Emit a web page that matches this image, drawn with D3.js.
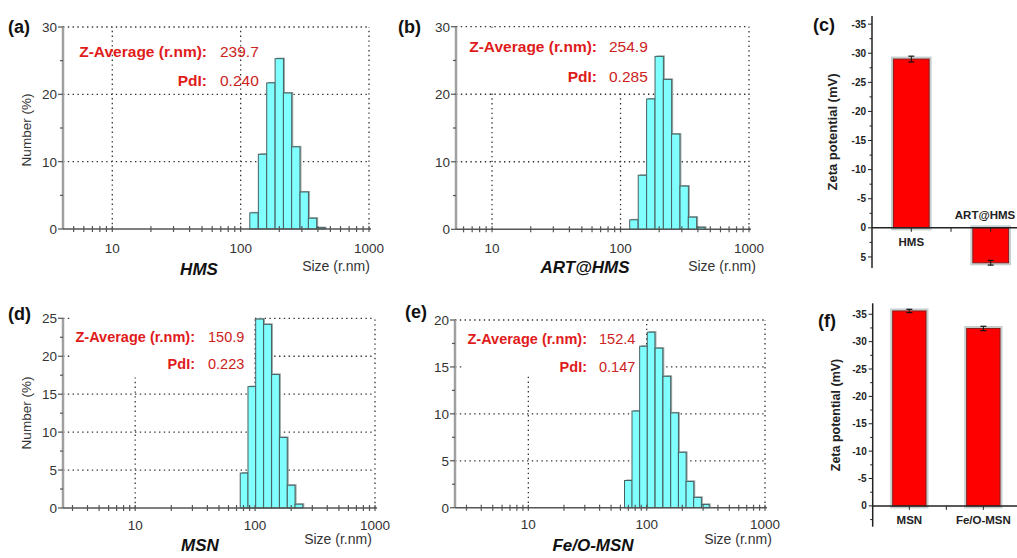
<!DOCTYPE html>
<html>
<head>
<meta charset="utf-8">
<script src="https://cdn.jsdelivr.net/npm/d3@7"></script>
<style>
body { margin: 0; background: #fff; }
svg { display: block; }
text { font-family: "Liberation Sans", Arial, sans-serif; }
</style>
</head>
<body>
<svg id="s"></svg>
<script>
// size distribution bins (r.nm) shared by the four histograms
var binSizes     = [70, 81, 94, 109, 127, 148, 172, 200, 232, 269, 313, 363, 422];
var hmsNumber    = [0, 0, 0, 0, 2.4, 11.1, 21.7, 25.3, 20.2, 12.2, 5.5, 1.6, 0.2];
var artHmsNumber = [0, 0, 0, 0, 1.4, 8.0, 19.3, 25.6, 22.2, 14.1, 6.4, 1.8, 0.3];
var msnNumber    = [0, 4.6, 16.0, 24.9, 24.2, 17.6, 9.3, 3.0, 0.5, 0, 0, 0, 0];
var feoMsnNumber = [2.9, 10.3, 17.2, 18.7, 17.0, 14.0, 10.1, 5.9, 2.8, 1.1, 0.35, 0, 0];
var binRatio = 1.161;

var sampleNames = ['HMS', 'ART@HMS', 'MSN', 'Fe/O-MSN'];
var zAverage = ['239.7', '254.9', '150.9', '152.4'];
var pdiValues = ['0.240', '0.285', '0.223', '0.147'];
var sizeTicks = [10, 100, 1000];

// zeta potential (mV)
var zetaCatsC = ['HMS', 'ART@HMS'];
var zetaMeanC = [-29.0, 6.0];
var zetaErrC  = [0.5, 0.4];
var zetaCatsF = ['MSN', 'Fe/O-MSN'];
var zetaMeanF = [-35.6, -32.4];
var zetaErrF  = [0.3, 0.4];
var zetaTicksC = [-35, -30, -25, -20, -15, -10, -5, 0, 5];
var zetaTicksF = [-35, -30, -25, -20, -15, -10, -5, 0];

var W = 1017, H = 558;
var svg = d3.select('#s').attr('width', W).attr('height', H);
svg.append('rect').attr('width', W).attr('height', H).attr('fill', '#fff');

var red = '#e01b1b';

var hists = [
  {tag: '(a)', tagX: 8, tagY: 33, values: hmsNumber, k: 0,
   xr: [63, 369], xd: [4.13, 1000], yr: [229, 27], yd: [0, 30], step: 10,
   labX: 207, zY: 57, pY: 86, valX: 220, fs: 15.5,
   nameX: 199, nameY: 275, sizeX: 336, sizeY: 271, tickY: 253,
   yTitle: [31, 130], mask: null},
  {tag: '(b)', tagX: 398, tagY: 33, values: artHmsNumber, k: 1,
   xr: [456, 749], xd: [5.24, 1000], yr: [229.3, 26.7], yd: [0, 30], step: 10,
   labX: 597, zY: 52, pY: 82, valX: 609, fs: 15.5,
   nameX: 585, nameY: 273, sizeX: 722, sizeY: 271, tickY: 253,
   yTitle: null, mask: [5.3, 150, 29.5, 20.4]},
  {tag: '(d)', tagX: 8, tagY: 320, values: msnNumber, k: 2,
   xr: [63, 375], xd: [2.5, 1000], yr: [508, 318.3], yd: [0, 25], step: 5,
   labX: 195, zY: 342, pY: 369, valX: 208, fs: 14.5,
   nameX: 200, nameY: 551, sizeX: 338, sizeY: 544, tickY: 530,
   yTitle: [31, 413], mask: [2.87, 97, 25.6, 17.2]},
  {tag: '(e)', tagX: 405, tagY: 318, values: feoMsnNumber, k: 3,
   xr: [455, 765], xd: [2.4, 1000], yr: [507.7, 320], yd: [0, 20], step: 5,
   labX: 587, zY: 344, pY: 372, valX: 599, fs: 14.5,
   nameX: 593, nameY: 551, sizeX: 738, sizeY: 544, tickY: 529,
   yTitle: null, mask: [2.75, 88, 19.7, 14.2]}
];

hists.forEach(drawHist);

function drawHist(p) {
  var x = d3.scaleLog().domain(p.xd).range(p.xr);
  var y = d3.scaleLinear().domain(p.yd).range(p.yr);
  var g = svg.append('g');
  var x0 = p.xr[0], x1 = p.xr[1], y0 = p.yr[0], y1 = p.yr[1];

  // dotted grid
  var gridY = d3.range(p.step, p.yd[1] + 0.01, p.step);
  g.selectAll('.gy').data(gridY).enter().append('line')
    .attr('x1', x0).attr('x2', x1)
    .attr('y1', function(d){ return y(d); }).attr('y2', function(d){ return y(d); })
    .attr('stroke', '#333').attr('stroke-width', 1.3).attr('stroke-dasharray', '1.4,3.4');
  g.selectAll('.gx').data(sizeTicks).enter().append('line')
    .attr('x1', function(d){ return x(d); }).attr('x2', function(d){ return x(d); })
    .attr('y1', y0).attr('y2', y1)
    .attr('stroke', '#333').attr('stroke-width', 1.3).attr('stroke-dasharray', '1.4,3.4');

  if (p.mask) {
    g.append('rect')
      .attr('x', x(p.mask[0])).attr('y', y(p.mask[2]))
      .attr('width', x(p.mask[1]) - x(p.mask[0]))
      .attr('height', y(p.mask[3]) - y(p.mask[2]))
      .attr('fill', '#fff');
  }

  var bins = binSizes.map(function(s, i){ return {s: s, v: p.values[i]}; })
    .filter(function(d){ return d.v > 0; });
  var h = Math.sqrt(binRatio);

  g.selectAll('.sh').data(bins).enter().append('rect')
    .attr('x', function(d){ return x(d.s / h) + 1.5; })
    .attr('y', function(d){ return y(d.v) - 1; })
    .attr('width', function(d){ return x(d.s * h) - x(d.s / h); })
    .attr('height', function(d){ return y(0) - y(d.v) + 1; })
    .attr('fill', '#9aa6a6');
  g.selectAll('.bar').data(bins).enter().append('rect')
    .attr('x', function(d){ return x(d.s / h); })
    .attr('y', function(d){ return y(d.v); })
    .attr('width', function(d){ return x(d.s * h) - x(d.s / h); })
    .attr('height', function(d){ return y(0) - y(d.v); })
    .attr('fill', '#80ffff').attr('stroke', '#476060').attr('stroke-width', 1);

  // axes
  g.append('line').attr('x1', x0).attr('x2', x0).attr('y1', y0).attr('y2', y1)
    .attr('stroke', '#a0a0a0').attr('stroke-width', 2.5);
  g.append('line').attr('x1', x0).attr('x2', x1 + 2).attr('y1', y0).attr('y2', y0)
    .attr('stroke', '#555').attr('stroke-width', 1.5);

  var xt = x.ticks().filter(function(d){ return d >= p.xd[0] && d <= p.xd[1]; });
  g.selectAll('.xt').data(xt).enter().append('line')
    .attr('x1', function(d){ return x(d); }).attr('x2', function(d){ return x(d); })
    .attr('y1', y0 - 3).attr('y2', y0 + 3)
    .attr('stroke', '#555').attr('stroke-width', 1.2);
  g.selectAll('.xl').data(sizeTicks).enter().append('text')
    .attr('x', function(d){ return x(d); }).attr('y', p.tickY)
    .attr('text-anchor', 'middle').attr('font-size', 13.5).attr('fill', '#333')
    .text(function(d){ return d; });

  var yt = d3.range(0, p.yd[1] + 0.01, p.step / 2);
  g.selectAll('.yt').data(yt).enter().append('line')
    .attr('x1', function(d){ return d % p.step === 0 ? x0 - 5 : x0 - 3; }).attr('x2', x0)
    .attr('y1', function(d){ return y(d); }).attr('y2', function(d){ return y(d); })
    .attr('stroke', '#555').attr('stroke-width', 1.2);
  g.selectAll('.yl').data(yt.filter(function(d){ return d % p.step === 0; })).enter().append('text')
    .attr('x', x0 - 6).attr('y', function(d){ return y(d); }).attr('dy', '0.36em')
    .attr('text-anchor', 'end').attr('font-size', 13.5).attr('fill', '#333')
    .text(function(d){ return d; });

  if (p.yTitle) {
    g.append('text').attr('transform', 'translate(' + p.yTitle[0] + ',' + p.yTitle[1] + ') rotate(-90)')
      .attr('text-anchor', 'middle').attr('font-size', 13.5).attr('fill', '#333')
      .text('Number (%)');
  }

  g.append('text').attr('x', p.tagX).attr('y', p.tagY)
    .attr('font-size', 18).attr('font-weight', 'bold').attr('fill', '#111').text(p.tag);

  g.append('text').attr('x', p.labX).attr('y', p.zY).attr('text-anchor', 'end')
    .attr('font-size', p.fs).attr('font-weight', 'bold').attr('fill', red).text('Z-Average (r.nm):');
  g.append('text').attr('x', p.labX).attr('y', p.pY).attr('text-anchor', 'end')
    .attr('font-size', p.fs).attr('font-weight', 'bold').attr('fill', red).text('PdI:');
  g.append('text').attr('x', p.valX).attr('y', p.zY)
    .attr('font-size', p.fs).attr('fill', '#cc2222').text(zAverage[p.k]);
  g.append('text').attr('x', p.valX).attr('y', p.pY)
    .attr('font-size', p.fs).attr('fill', '#cc2222').text(pdiValues[p.k]);

  g.append('text').attr('x', p.nameX).attr('y', p.nameY).attr('text-anchor', 'middle')
    .attr('font-size', 17).attr('font-weight', 'bold').attr('font-style', 'italic')
    .attr('fill', '#111').text(sampleNames[p.k]);
  g.append('text').attr('x', p.sizeX).attr('y', p.sizeY).attr('text-anchor', 'middle')
    .attr('font-size', 14).attr('fill', '#333').text('Size (r.nm)');
}

var zetas = [
  {tag: '(c)', tagX: 813, tagY: 31, cats: zetaCatsC, means: zetaMeanC, errs: zetaErrC, ticks: zetaTicksC,
   xr: [872, 1030], yd: [-36.4, 6.9], yr: [16, 268], titleX: 837, titleY: 132, tfs: 13},
  {tag: '(f)', tagX: 818, tagY: 327, cats: zetaCatsF, means: zetaMeanF, errs: zetaErrF, ticks: zetaTicksF,
   xr: [872.7, 1020], yd: [-37, 3.8], yr: [303.3, 526.7], titleX: 840, titleY: 415, tfs: 12.5}
];

zetas.forEach(drawZeta);

function drawZeta(p) {
  var x = d3.scaleBand().domain(p.cats).range(p.xr).paddingInner(0.55).paddingOuter(0.27);
  var y = d3.scaleLinear().domain(p.yd).range(p.yr);
  var g = svg.append('g');
  var ax = p.xr[0];
  var data = p.cats.map(function(c, i){ return {c: c, v: p.means[i], e: p.errs[i]}; });

  g.selectAll('.halo').data(data).enter().append('rect')
    .attr('x', function(d){ return x(d.c) - 1; })
    .attr('y', function(d){ return Math.min(y(0), y(d.v)) - 1; })
    .attr('width', x.bandwidth() + 2)
    .attr('height', function(d){ return Math.abs(y(d.v) - y(0)) + 2; })
    .attr('fill', 'none').attr('stroke', '#c6cfcf').attr('stroke-width', 3);
  g.selectAll('.bar').data(data).enter().append('rect')
    .attr('x', function(d){ return x(d.c); })
    .attr('y', function(d){ return Math.min(y(0), y(d.v)); })
    .attr('width', x.bandwidth())
    .attr('height', function(d){ return Math.abs(y(d.v) - y(0)); })
    .attr('fill', '#ff0000').attr('stroke', '#8e1a1a').attr('stroke-width', 1);

  // error bars
  data.forEach(function(d) {
    var cx = x(d.c) + x.bandwidth() / 2;
    g.append('line').attr('x1', cx).attr('x2', cx)
      .attr('y1', y(d.v - d.e)).attr('y2', y(d.v + d.e))
      .attr('stroke', '#111').attr('stroke-width', 1);
    [d.v - d.e, d.v + d.e].forEach(function(t) {
      g.append('line').attr('x1', cx - 3).attr('x2', cx + 3)
        .attr('y1', y(t)).attr('y2', y(t))
        .attr('stroke', '#111').attr('stroke-width', 1.2);
    });
  });

  // axes
  g.append('line').attr('x1', ax).attr('x2', ax).attr('y1', p.yr[0]).attr('y2', p.yr[1])
    .attr('stroke', '#222').attr('stroke-width', 1.5);
  g.append('line').attr('x1', ax).attr('x2', W).attr('y1', y(0)).attr('y2', y(0))
    .attr('stroke', '#222').attr('stroke-width', 1.5);

  var minor = d3.range(Math.ceil(p.yd[0] / 2.5) * 2.5, p.yd[1], 2.5);
  g.selectAll('.yt').data(minor).enter().append('line')
    .attr('x1', function(d){ return d % 5 === 0 ? ax - 4 : ax - 2.5; }).attr('x2', ax)
    .attr('y1', function(d){ return y(d); }).attr('y2', function(d){ return y(d); })
    .attr('stroke', '#222').attr('stroke-width', 1);
  g.selectAll('.yl').data(p.ticks).enter().append('text')
    .attr('x', ax - 6).attr('y', function(d){ return y(d); }).attr('dy', '0.36em')
    .attr('text-anchor', 'end').attr('font-size', 10).attr('font-weight', 'bold').attr('fill', '#222')
    .text(function(d){ return d; });

  var step = x.step();
  var xt = [];
  p.cats.forEach(function(c, i){
    xt.push(x(c) + x.bandwidth() / 2);
    xt.push(x(c) + x.bandwidth() / 2 + step / 2);
  });
  g.selectAll('.xt').data(xt).enter().append('line')
    .attr('x1', function(d){ return d; }).attr('x2', function(d){ return d; })
    .attr('y1', y(0)).attr('y2', y(0) + 4)
    .attr('stroke', '#222').attr('stroke-width', 1);

  // category labels; a label that would run past the right edge is kept inside it
  g.selectAll('.xl').data(data).enter().append('text')
    .attr('x', function(d){ return Math.min(x(d.c) + x.bandwidth() / 2, W - 32); })
    .attr('y', function(d){ return d.v > 0 ? y(0) - 9 : y(0) + 18; })
    .attr('text-anchor', 'middle').attr('font-size', 11.5).attr('font-weight', 'bold').attr('fill', '#222')
    .text(function(d){ return d.c; });

  g.append('text').attr('transform', 'translate(' + p.titleX + ',' + p.titleY + ') rotate(-90)')
    .attr('text-anchor', 'middle').attr('font-size', p.tfs).attr('font-weight', 'bold').attr('fill', '#222')
    .text('Zeta potential (mV)');

  g.append('text').attr('x', p.tagX).attr('y', p.tagY)
    .attr('font-size', 18).attr('font-weight', 'bold').attr('fill', '#111').text(p.tag);
}
</script>
</body>
</html>
